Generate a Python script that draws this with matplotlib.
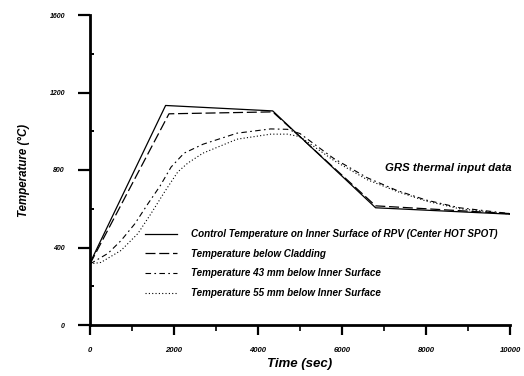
import matplotlib
matplotlib.use("Agg")
import matplotlib.pyplot as plt
from matplotlib.ticker import MultipleLocator

# ---- data ----
time_surface = [0, 1800, 4350, 6800, 10000]
temp_surface = [320, 1133, 1105, 605, 572]

time_clad = [0, 1880, 4350, 6800, 10000]
temp_clad = [315, 1090, 1100, 615, 575]

time_43 = [0, 430, 740, 1070, 1380, 1670, 1930, 2240, 2690, 3500, 4300, 4700,
           5000, 5800, 6600, 7300, 8000, 8800, 10000]
temp_43 = [315, 370, 436, 523, 626, 718, 815, 887, 933, 990, 1012, 1010,
           988, 860, 760, 695, 645, 605, 575]

time_55 = [0, 260, 740, 1140, 1450, 1790, 2090, 2330, 2690, 3500, 4300, 4700,
           5000, 5800, 6600, 7300, 8000, 8800, 10000]
temp_55 = [315, 323, 385, 472, 574, 692, 790, 836, 887, 959, 985, 985,
           972, 850, 750, 690, 640, 600, 572]

labels = [
    "Control Temperature on Inner Surface of RPV (Center HOT SPOT)",
    "Temperature below Cladding",
    "Temperature 43 mm below Inner Surface",
    "Temperature 55 mm below Inner Surface",
]
x_ticks = [0, 2000, 4000, 6000, 8000, 10000]
y_ticks = [0, 400, 800, 1200, 1600]

FONT = "Liberation Sans"

fig = plt.figure(figsize=(5.24, 3.76), dpi=100)
ax = fig.add_axes([90 / 524, 1 - 325 / 376, 420 / 524, 310 / 376])

ax.plot(time_surface, temp_surface, color="black", lw=0.9, ls="-", label=labels[0])
ax.plot(time_clad, temp_clad, color="black", lw=0.9, ls=(0, (8, 3)), label=labels[1])
ax.plot(time_43, temp_43, color="black", lw=0.8, ls=(0, (5, 3, 1.5, 3)), label=labels[2])
ax.plot(time_55, temp_55, color="black", lw=0.8, ls=(0, (1, 2)), label=labels[3])

ax.set_xlim(0, 10000)
ax.set_ylim(0, 1600)
ax.set_xticks(x_ticks)
ax.set_yticks(y_ticks)
ax.xaxis.set_minor_locator(MultipleLocator(1000))
ax.yaxis.set_minor_locator(MultipleLocator(200))

for s in ["top", "right"]:
    ax.spines[s].set_visible(False)
for s in ["left", "bottom"]:
    ax.spines[s].set_linewidth(2.0)

ax.tick_params(axis="y", which="major", direction="out", length=9, width=1.6, pad=9)
ax.tick_params(axis="y", which="minor", direction="in", length=3, width=1.4)
ax.tick_params(axis="x", which="major", direction="out", length=7, width=1.6, pad=9)
ax.tick_params(axis="x", which="minor", direction="out", length=4, width=1.2)

for lab in ax.get_yticklabels():
    lab.set_fontfamily(FONT); lab.set_fontweight("bold"); lab.set_fontstyle("italic"); lab.set_fontsize(5)
for lab in ax.get_xticklabels():
    lab.set_fontfamily(FONT); lab.set_fontweight("bold"); lab.set_fontstyle("italic"); lab.set_fontsize(5.5)

ax.set_xlabel("Time (sec)", fontfamily=FONT, fontweight="bold", fontstyle="italic",
              fontsize=9.5, labelpad=3)
ax.set_ylabel("Temperature (°C)", fontfamily=FONT, fontweight="bold", fontstyle="italic",
              fontsize=8.3, labelpad=14)

ax.text(385 / 524, 1 - 168 / 376, "GRS thermal input data", transform=fig.transFigure,
        fontfamily=FONT, fontweight="bold", fontstyle="italic", fontsize=8.2,
        ha="left", va="center")

leg = ax.legend(loc="upper left", bbox_to_anchor=(145 / 524, 1 - 229 / 376),
                bbox_transform=fig.transFigure, frameon=False, borderpad=0,
                borderaxespad=0, handlelength=3.2, handletextpad=1.5,
                labelspacing=0.98,
                prop={"family": FONT, "weight": "bold", "style": "italic", "size": 7.1})

fig.savefig("out.png", dpi=100)
